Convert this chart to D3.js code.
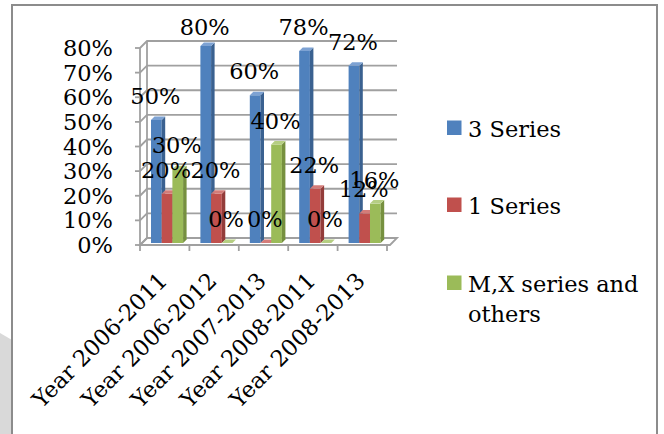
<!DOCTYPE html>
<html><head><meta charset="utf-8">
<script src="https://cdn.jsdelivr.net/npm/d3@7"></script>
<style>html,body{margin:0;padding:0;background:#fff;}svg{display:block;}</style>
</head><body>
<svg id="chart" width="664" height="434"></svg>
<script>
const categories = ["Year 2006-2011","Year 2006-2012","Year 2007-2013","Year 2008-2011","Year 2008-2013"];
const seriesNames = ["3 Series","1 Series","M,X series and others"];
const series3 = [0.50,0.80,0.60,0.78,0.72];
const series1 = [0.20,0.20,0.00,0.22,0.12];
const seriesMX = [0.30,0.00,0.40,0.00,0.16];
const yTicks = [0,0.1,0.2,0.3,0.4,0.5,0.6,0.7,0.8];
const colors = ["#4F81BD","#C0504D","#9BBB59"];
const sideColors = ["#3A6190","#933C3A","#76903F"];
const topColors = ["#7DA2D3","#D47C79","#B5CE82"];

const allSeries = [series3, series1, seriesMX];
const svg = d3.select("#chart");
const FONT = "DejaVu Serif";

// outer frame
svg.append("path").attr("d","M0,333 L12,340 L12,434 L0,434 Z").attr("fill","#d9d9d9");
svg.append("rect").attr("x",12).attr("y",5).attr("width",645).attr("height",440)
  .attr("fill","#fff").attr("stroke","#8c8c8c").attr("stroke-width",2);

const y = d3.scaleLinear().domain([0,0.8]).range([245,48]);
const x = d3.scaleBand().domain(categories).range([140,387]).padding(0);
const DX = 7, DY = -7;
const x0 = 140, x1 = 390;
const gridColor = "#a0a0a0";

const g = svg.append("g");
// floor
g.append("path")
  .attr("d",`M${x0},${y(0)} L${x1},${y(0)} L${x1+DX},${y(0)+DY} L${x0+DX},${y(0)+DY} Z`)
  .attr("fill","none").attr("stroke",gridColor).attr("stroke-width",1.8);
// gridlines on side and back wall
yTicks.forEach(v=>{
  const yy = y(v);
  g.append("path")
    .attr("d",`M${x0},${yy} L${x0+DX},${yy+DY} L${x1+DX},${yy+DY}`)
    .attr("fill","none").attr("stroke",gridColor).attr("stroke-width",1.8);
  g.append("line").attr("x1",x0-5).attr("x2",x0).attr("y1",yy).attr("y2",yy)
    .attr("stroke",gridColor).attr("stroke-width",1.8);
});
g.append("line").attr("x1",x0).attr("x2",x0).attr("y1",y(0.8)).attr("y2",y(0))
  .attr("stroke",gridColor).attr("stroke-width",1.8);
g.append("line").attr("x1",x0+DX).attr("x2",x0+DX).attr("y1",y(0.8)+DY).attr("y2",y(0)+DY)
  .attr("stroke",gridColor).attr("stroke-width",1.8);
// category ticks
const bounds = categories.map(c=>x(c)).concat([x(categories[categories.length-1])+x.bandwidth()]);
bounds.forEach(b=>{
  g.append("line").attr("x1",b).attr("x2",b).attr("y1",y(0)).attr("y2",y(0)+6)
    .attr("stroke",gridColor).attr("stroke-width",1.8);
});

// y labels
yTicks.forEach(v=>{
  svg.append("text").attr("x",113).attr("y",y(v)+8).attr("text-anchor","end")
    .attr("font-family",FONT).attr("font-size",22.5).attr("fill","#000")
    .text(d3.format(".0%")(v));
});

// bars
const bw = 10.7, bd = 3.5, off = 2;
const labels = [];
categories.forEach((c,ci)=>{
  allSeries.forEach((s,si)=>{
    const v = s[ci];
    const bx = x(c) + 11 + si*bw;
    const yt = y(v) - off, yb = y(0) - off;
    if (yb - yt > 0.1) {
      g.append("rect").attr("x",bx).attr("y",yt).attr("width",bw).attr("height",yb-yt)
        .attr("fill",colors[si]);
      g.append("path")
        .attr("d",`M${bx+bw},${yt} L${bx+bw+bd},${yt-bd} L${bx+bw+bd},${yb-bd} L${bx+bw},${yb} Z`)
        .attr("fill",sideColors[si]);
    }
    g.append("path")
      .attr("d",`M${bx},${yt} L${bx+bw},${yt} L${bx+bw+bd},${yt-bd} L${bx+bd},${yt-bd} Z`)
      .attr("fill",topColors[si]);
    labels.push({x: bx + bw/2 - 1, y: Math.max(yt - 16, 35), t: d3.format(".0%")(v)});
  });
});
labels.forEach(l=>{
  svg.append("text").attr("x",l.x).attr("y",l.y).attr("text-anchor","middle")
    .attr("font-family",FONT).attr("font-size",22.5).attr("fill","#000").text(l.t);
});

// category labels
categories.forEach(c=>{
  const cx = x(c) + x.bandwidth()/2 + 4;
  svg.append("text").attr("transform",`translate(${cx},282) rotate(-45)`)
    .attr("text-anchor","end").attr("font-family",FONT).attr("font-size",22.5)
    .attr("fill","#000").text(c);
});

// legend
const legY = [128,205,283];
seriesNames.forEach((n,i)=>{
  svg.append("rect").attr("x",447).attr("y",legY[i]-7.5).attr("width",14.5).attr("height",14.5)
    .attr("fill",colors[i]);
});
svg.append("text").attr("x",468).attr("y",legY[0]+8.5).attr("font-family",FONT).attr("font-size",22.5).text(seriesNames[0]);
svg.append("text").attr("x",468).attr("y",legY[1]+8.5).attr("font-family",FONT).attr("font-size",22.5).text(seriesNames[1]);
const t3 = svg.append("text").attr("font-family",FONT).attr("font-size",22.5);
t3.append("tspan").attr("x",468).attr("y",legY[2]+8.5).text("M,X series and");
t3.append("tspan").attr("x",468).attr("y",legY[2]+38.5).text("others");
</script>
</body></html>
